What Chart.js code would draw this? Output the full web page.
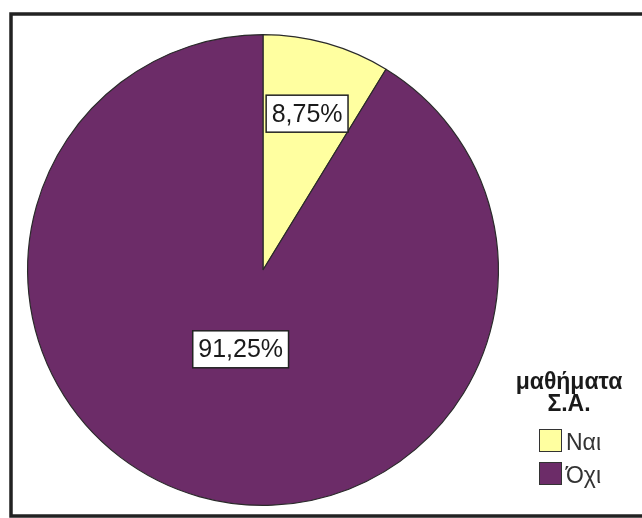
<!DOCTYPE html>
<html>
<head>
<meta charset="utf-8">
<script src="https://cdn.jsdelivr.net/npm/chart.js@4"></script>
<style>
    html, body { margin: 0; padding: 0; background: #fff; }
    #pieChart { display: block; }
</style>
</head>
<body>
<canvas id="pieChart" width="642" height="518"></canvas>
<script>
// PIE CHART - μαθήματα Σ.Α.

const categories = ['Ναι', 'Όχι'];
const percentages = [8.75, 91.25];
const sliceColors = ['rgb(255, 255, 160)', 'rgb(108, 44, 104)'];
const legendTitle = ['μαθήματα', 'Σ.Α.'];

const pieChart = document.getElementById('pieChart');

// frame around the whole chart
const framePlugin = {
    id: 'frame',
    beforeDraw(chart) {
        const ctx = chart.ctx;
        ctx.save();
        ctx.fillStyle = '#fff';
        ctx.fillRect(0, 0, chart.width, chart.height);
        ctx.strokeStyle = '#222';
        ctx.lineWidth = 3.5;
        ctx.strokeRect(11, 14, 700, 502);
        ctx.restore();
    }
};

// boxed percentage labels inside the slices
const boxLabels = {
    id: 'boxLabels',
    afterDatasetsDraw(chart, args, opts) {
        const ctx = chart.ctx;
        const meta = chart.getDatasetMeta(0);
        ctx.save();
        ctx.font = '25px "Liberation Sans", Arial, sans-serif';
        ctx.textAlign = 'center';
        ctx.textBaseline = 'middle';
        meta.data.forEach((arc, i) => {
            const p = arc.getProps(['x', 'y', 'startAngle', 'endAngle', 'outerRadius'], true);
            const mid = (p.startAngle + p.endAngle) / 2;
            const r = p.outerRadius * opts.radius[i];
            const x = p.x + Math.cos(mid) * r;
            const y = p.y + Math.sin(mid) * r;
            const text = percentages[i].toFixed(2).replace('.', ',') + '%';
            const w = ctx.measureText(text).width + 11;
            const h = 37;
            ctx.fillStyle = '#fff';
            ctx.fillRect(x - w / 2, y - h / 2, w, h);
            ctx.strokeStyle = '#222';
            ctx.lineWidth = 1.5;
            ctx.strokeRect(x - w / 2, y - h / 2, w, h);
            ctx.fillStyle = '#1a1a1a';
            ctx.fillText(text, x, y + 1);
        });
        ctx.restore();
    }
};

// legend with title, bottom right
const sideLegend = {
    id: 'sideLegend',
    afterDraw(chart) {
        const ctx = chart.ctx;
        ctx.save();
        ctx.fillStyle = '#1a1a1a';
        ctx.textAlign = 'center';
        ctx.textBaseline = 'alphabetic';
        ctx.font = 'bold 23px "Liberation Sans", Arial, sans-serif';
        ctx.fillText(legendTitle[0], 569, 389);
        ctx.fillText(legendTitle[1], 569, 411);

        ctx.textAlign = 'left';
        ctx.font = '23px "Liberation Sans", Arial, sans-serif';
        categories.forEach((c, i) => {
            const y = 429 + i * 33;
            ctx.fillStyle = sliceColors[i];
            ctx.fillRect(539, y, 22, 22);
            ctx.strokeStyle = '#333';
            ctx.lineWidth = 1;
            ctx.strokeRect(539.5, y + 0.5, 22, 22);
            ctx.fillStyle = '#333';
            ctx.fillText(c, 566, y + 21);
        });
        ctx.restore();
    }
};

new Chart(pieChart, {
    type: 'pie',
    data: {
        labels: categories,
        datasets: [
            {
                label: 'μαθήματα Σ.Α.',
                data: percentages,
                backgroundColor: sliceColors,
                borderColor: '#2a2a2a',
                borderWidth: 1.2
            }
        ]
    },
    options: {
        responsive: false,
        animation: false,
        layout: {
            padding: { left: 27, top: 34, right: 143, bottom: 12 }
        },
        plugins: {
            legend: { display: false },
            tooltip: { enabled: false },
            boxLabels: { radius: [0.69, 0.35] }
        }
    },
    plugins: [framePlugin, boxLabels, sideLegend]
});
</script>
</body>
</html>
